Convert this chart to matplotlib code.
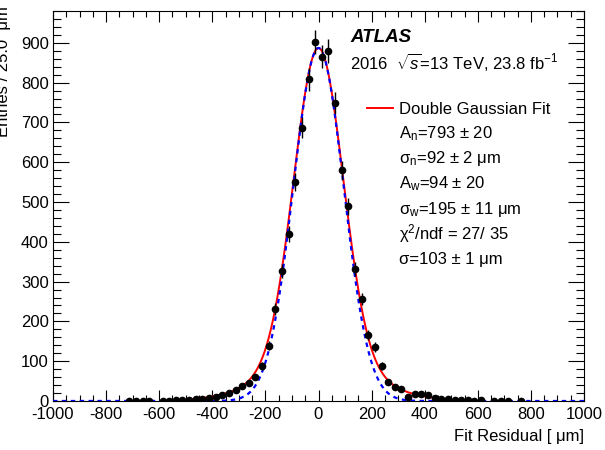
import numpy as np
from matplotlib import pyplot as plt

plt.rcParams['font.family'] = ['Liberation Sans', 'DejaVu Sans']
plt.rcParams['mathtext.fontset'] = 'custom'
plt.rcParams['mathtext.rm'] = 'Liberation Sans'
plt.rcParams['mathtext.it'] = 'Liberation Sans:italic'
plt.rcParams['mathtext.bf'] = 'Liberation Sans:bold'
plt.rcParams['axes.unicode_minus'] = False

# bin centres (25 um bins) and entries
centres = np.arange(-712.5, 775, 25)
entries = [1, 1, 1, 1, 0, 1, 1, 2, 2, 3, 4, 6, 8, 10, 15, 21, 27, 38, 46, 60,
           88, 139, 231, 326, 420, 550, 687, 808, 903, 865, 880, 748, 580,
           489, 332, 256, 166, 136, 88, 49, 35, 29, 10, 18, 17, 14, 7, 6, 4,
           2, 2, 2, 1, 2, 0, 1, 1, 1, 0, 1]
entries = np.array(entries, dtype=float)

# double gaussian fit (legend values), fit range +-500
An, sn, Aw, sw = 793, 92, 94, 195
# single core gaussian (blue dashed)
Ac, sc = 887, 95

def double_gaus(x):
    return An*np.exp(-0.5*(x/sn)**2) + Aw*np.exp(-0.5*(x/sw)**2)

def core_gaus(x):
    return Ac*np.exp(-0.5*(x/sc)**2)

fig = plt.figure(figsize=(6.05, 4.5), dpi=100)
ax = fig.add_axes([53/605, 1-401/450, 531/605, 390/450])

xr = np.linspace(-500, 500, 800)
ax.plot(xr, double_gaus(xr), color='red', lw=1.4, zorder=2)
xf = np.linspace(-1000, 1000, 1600)
ax.plot(xf, core_gaus(xf), color='blue', lw=1.6, ls=(0, (2, 2)), zorder=3)

m = entries > 0
ax.errorbar(centres[m], entries[m], yerr=np.sqrt(entries[m]), fmt='o',
            color='black', ms=4.5, elinewidth=1, capsize=0, zorder=4)

ax.set_xlim(-1000, 1000)
ax.set_ylim(0, 980)
ax.set_xticks(np.arange(-1000, 1001, 200))
ax.set_xticks(np.arange(-1000, 1001, 50), minor=True)
ax.set_yticks(np.arange(0, 901, 100))
ax.set_yticks(np.arange(0, 981, 20), minor=True)
ax.tick_params(which='both', direction='in', top=True, right=True, width=0.8,
               labelsize=12)
ax.tick_params(axis='x', which='major', length=8, pad=4)
ax.tick_params(axis='x', which='minor', length=4.3)
ax.tick_params(axis='y', which='major', length=11.5, pad=3)
ax.tick_params(axis='y', which='minor', length=5.8)

fig.text(584/605, 1-437/450, 'Fit Residual [ μm]', ha='right', va='center',
         fontsize=12)
fig.text(11/605, 1-6/450, 'Entries / 25.0  μm', rotation=90, ha='right',
         va='top', fontsize=12)

fig.text(350/605, 1-41.5/450, 'ATLAS', fontsize=13.5, fontweight='bold',
         fontstyle='italic', va='baseline')
fig.text(350/605, 1-69/450, r'2016  $\sqrt{s}$=13 TeV, 23.8 fb$^{-1}$',
         fontsize=12, va='baseline')

fig.add_artist(plt.Line2D([367/605, 393/605], [1-108/450, 1-108/450],
                          color='red', lw=1.4))
lines = ['Double Gaussian Fit',
         r'A$_\mathrm{n}$=793 ± 20',
         r'σ$_\mathrm{n}$=92 ± 2 μm',
         r'A$_\mathrm{w}$=94 ± 20',
         r'σ$_\mathrm{w}$=195 ± 11 μm',
         r'χ$^2$/ndf = 27/ 35',
         'σ=103 ± 1 μm']
baselines = [114, 138, 163, 188, 214, 239, 264]
for t, yb in zip(lines, baselines):
    fig.text(399/605, 1-yb/450, t, fontsize=12, va='baseline')

fig.savefig('out.png', dpi=100)
